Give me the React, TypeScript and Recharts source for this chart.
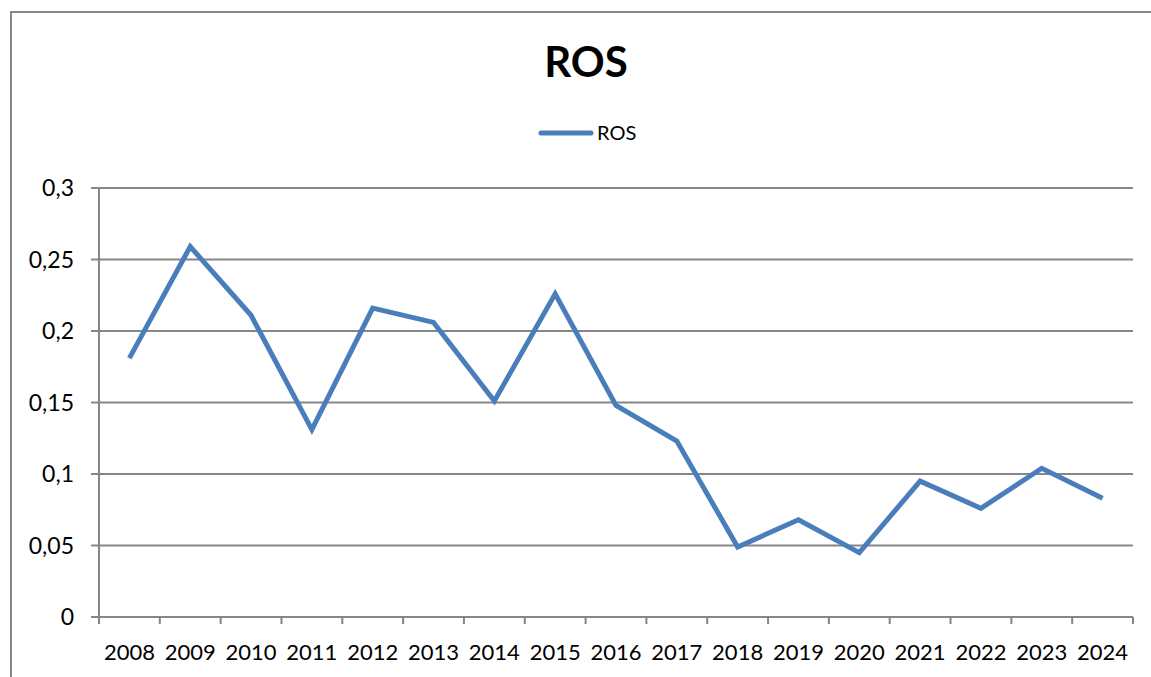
import { CartesianGrid, Legend, Line, LineChart, XAxis, YAxis } from "recharts"

const years = [
  "2008", "2009", "2010", "2011", "2012", "2013", "2014", "2015", "2016",
  "2017", "2018", "2019", "2020", "2021", "2022", "2023", "2024",
]
const rosValues = [
  0.181, 0.259, 0.211, 0.131, 0.216, 0.206, 0.151, 0.226, 0.148,
  0.123, 0.049, 0.068, 0.045, 0.095, 0.076, 0.104, 0.083,
]
const yTicks = [0, 0.05, 0.1, 0.15, 0.2, 0.25, 0.3]

const data = years.map((year, i) => ({ year, ROS: rosValues[i] }))

const FONT = "Lato, 'Open Sans', sans-serif"
const GRAY = "#868686"
const BLUE = "#4a7ebb"
const PLOT_LEFT = 99
const PLOT_RIGHT = 1133
const BAND = (PLOT_RIGHT - PLOT_LEFT) / years.length

function YearTick(props: any) {
  const { x, y, payload, index } = props
  const left = x - BAND / 2
  const right = x + BAND / 2
  return (
    <g>
      <line x1={left} y1={y} x2={left} y2={y + 7} stroke={GRAY} strokeWidth={2} />
      {index === years.length - 1 && (
        <line x1={right} y1={y} x2={right} y2={y + 7} stroke={GRAY} strokeWidth={2} />
      )}
      <text x={x} y={y + 43} textAnchor="middle" fontSize={22} fill="#000" fontFamily={FONT}>
        {payload.value}
      </text>
    </g>
  )
}

function LegendContent() {
  return (
    <svg width={1151} height={30}>
      <line x1={541} y1={15} x2={591} y2={15} stroke={BLUE} strokeWidth={5} strokeLinecap="round" />
      <text x={597} y={22} fontSize={20} fill="#000" fontFamily={FONT}>
        ROS
      </text>
    </svg>
  )
}

export default function App() {
  return (
    <div style={{ position: "absolute", left: 0, top: 0, width: 1151, height: 677, overflow: "hidden", background: "#fff" }}>
      <div
        style={{
          position: "absolute",
          left: 10,
          top: 11,
          width: 1200,
          height: 720,
          border: `2px solid ${GRAY}`,
          boxSizing: "border-box",
        }}
      />
      <div
        style={{
          position: "absolute",
          left: 0,
          top: 36,
          width: 1172,
          textAlign: "center",
          fontFamily: FONT,
          fontWeight: 700,
          fontSize: 42,
          color: "#000",
        }}
      >
        ROS
      </div>
      <div style={{ position: "absolute", left: 0, top: 0 }}>
        <LineChart width={1151} height={677} data={data} margin={{ top: 154, right: 18, bottom: 10, left: 0 }}>
          <CartesianGrid vertical={false} stroke={GRAY} strokeWidth={2} />
          <XAxis
            dataKey="year"
            scale="band"
            height={50}
            stroke={GRAY}
            strokeWidth={2}
            tickLine={false}
            tickSize={0}
            tickMargin={0}
            interval={0}
            tick={<YearTick />}
          />
          <YAxis
            width={99}
            domain={[0, 0.3]}
            ticks={yTicks}
            stroke={GRAY}
            strokeWidth={2}
            tickSize={8}
            tickMargin={17}
            tickLine={{ stroke: GRAY, strokeWidth: 2 }}
            tick={{ fill: "#000", fontSize: 23, fontFamily: FONT }}
            tickFormatter={(v: number) => String(v).replace(".", ",")}
          />
          <Legend verticalAlign="top" wrapperStyle={{ top: 118, left: 0 }} content={<LegendContent />} />
          <Line
            type="linear"
            dataKey="ROS"
            stroke={BLUE}
            strokeWidth={5}
            dot={false}
            activeDot={false}
            isAnimationActive={false}
          />
        </LineChart>
      </div>
    </div>
  )
}
